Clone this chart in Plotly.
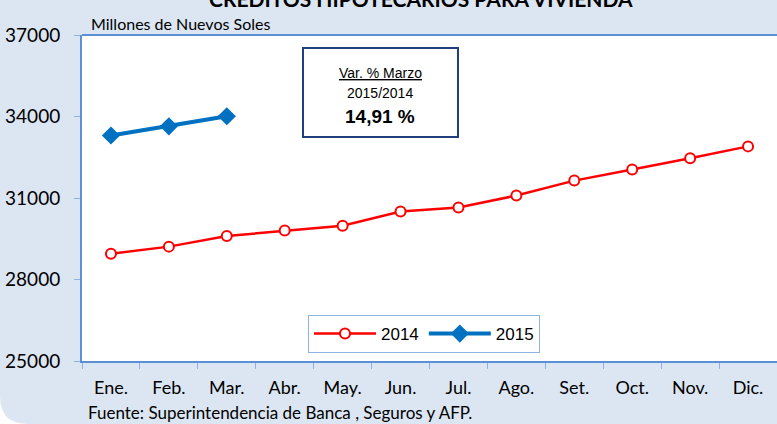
import plotly.graph_objects as go

months = ["Ene.", "Feb.", "Mar.", "Abr.", "May.", "Jun.", "Jul.", "Ago.", "Set.", "Oct.", "Nov.", "Dic."]
values_2014 = [28950, 29210, 29600, 29800, 29980, 30500, 30650, 31090, 31640, 32050, 32460, 32900]
months_2015 = ["Ene.", "Feb.", "Mar."]
values_2015 = [33300, 33640, 34010]
y_ticks = [25000, 28000, 31000, 34000, 37000]

W, H = 777, 424
ML, MR, MT, MB = 82, 0, 35, 63
PW, PH = W - ML - MR, H - MT - MB

def px(x):
    return (x - ML) / PW

def py(y):
    return (H - MB - y) / PH

BG = "#DCE6F2"
FONT = "Lato, Open Sans, sans-serif"
ARIAL = "Liberation Sans, Arial, sans-serif"

fig = go.Figure()
fig.add_trace(go.Scatter(
    x=months, y=values_2014, name="2014", mode="lines+markers",
    line=dict(color="#FF0000", width=2.5),
    marker=dict(symbol="circle", size=10, color="white", line=dict(color="#FF0000", width=2)),
))
fig.add_trace(go.Scatter(
    x=months_2015, y=values_2015, name="2015", mode="lines+markers",
    line=dict(color="#0070C0", width=4),
    marker=dict(symbol="diamond", size=14, color="#0070C0"),
))

fig.update_layout(
    width=W, height=H,
    margin=dict(l=ML, r=MR, t=MT, b=MB),
    paper_bgcolor=BG, plot_bgcolor="white",
    font=dict(family=FONT, color="black"),
    xaxis=dict(
        type="category", categoryorder="array", categoryarray=months,
        range=[-0.5, 11.5], showgrid=False, zeroline=False,
        showline=True, linecolor="#5B8FD6", linewidth=2,
        ticks="outside", tickson="boundaries", ticklen=6, tickcolor="#8DB3E2", tickwidth=1,
        tickfont=dict(size=18, family=FONT),
        ticklabelstandoff=9,
    ),
    yaxis=dict(
        range=[25000, 37000], tickvals=y_ticks, ticktext=[str(v) for v in y_ticks],
        showgrid=False, zeroline=False,
        showline=True, linecolor="#5B8FD6", linewidth=2,
        ticks="outside", ticklen=6, tickcolor="#8DB3E2", tickwidth=1,
        tickfont=dict(size=19, family=FONT),
        ticklabelstandoff=10,
    ),
    showlegend=True,
    legend=dict(
        orientation="h", x=px(308), y=py(315), xanchor="left", yanchor="top",
        bgcolor="white", bordercolor="#8DB3E2", borderwidth=1,
        font=dict(size=17, family=ARIAL),
        itemwidth=62,
    ),
)

shapes = [
    dict(type="line", xref="paper", yref="paper", x0=0, x1=1, y0=1, y1=1,
         line=dict(color="#5B8FD6", width=2)),
    dict(type="rect", xref="paper", yref="paper", x0=px(303), x1=px(458), y0=py(137), y1=py(48),
         line=dict(color="#1F3F7D", width=2), fillcolor="white"),
    dict(type="path", xref="paper", yref="paper",
         path=f"M {px(0)},{py(396)} Q {px(0)},{py(424)} {px(28)},{py(424)} L {px(0)},{py(424)} Z",
         fillcolor="white", line=dict(width=0)),
]
fig.update_layout(shapes=shapes)

ann = [
    dict(text="<b>CREDITOS HIPOTECARIOS PARA VIVIENDA</b>", x=px(421), y=py(-2), xref="paper", yref="paper",
         xanchor="center", yanchor="middle", showarrow=False,
         font=dict(size=21, family=FONT, color="black")),
    dict(text="Millones de Nuevos Soles", x=px(89), y=py(24), xref="paper", yref="paper",
         xanchor="left", yanchor="middle", showarrow=False,
         font=dict(size=16, family=FONT)),
    dict(text="Fuente: Superintendencia de Banca , Seguros y AFP.", x=px(86), y=py(412), xref="paper", yref="paper",
         xanchor="left", yanchor="middle", showarrow=False,
         font=dict(size=17, family=FONT)),
    dict(text="<u>Var. % Marzo</u>", x=px(380), y=py(73), xref="paper", yref="paper",
         xanchor="center", yanchor="middle", showarrow=False,
         font=dict(size=14, family=ARIAL)),
    dict(text="2015/2014", x=px(380), y=py(93), xref="paper", yref="paper",
         xanchor="center", yanchor="middle", showarrow=False,
         font=dict(size=14, family=ARIAL)),
    dict(text="<b>14,91 %</b>", x=px(380), y=py(116), xref="paper", yref="paper",
         xanchor="center", yanchor="middle", showarrow=False,
         font=dict(size=19, family=ARIAL)),
]
fig.update_layout(annotations=ann)

fig.write_html("out.html", config={"displayModeBar": False},
               post_script="document.body.style.margin='0';document.body.style.overflow='hidden';")
